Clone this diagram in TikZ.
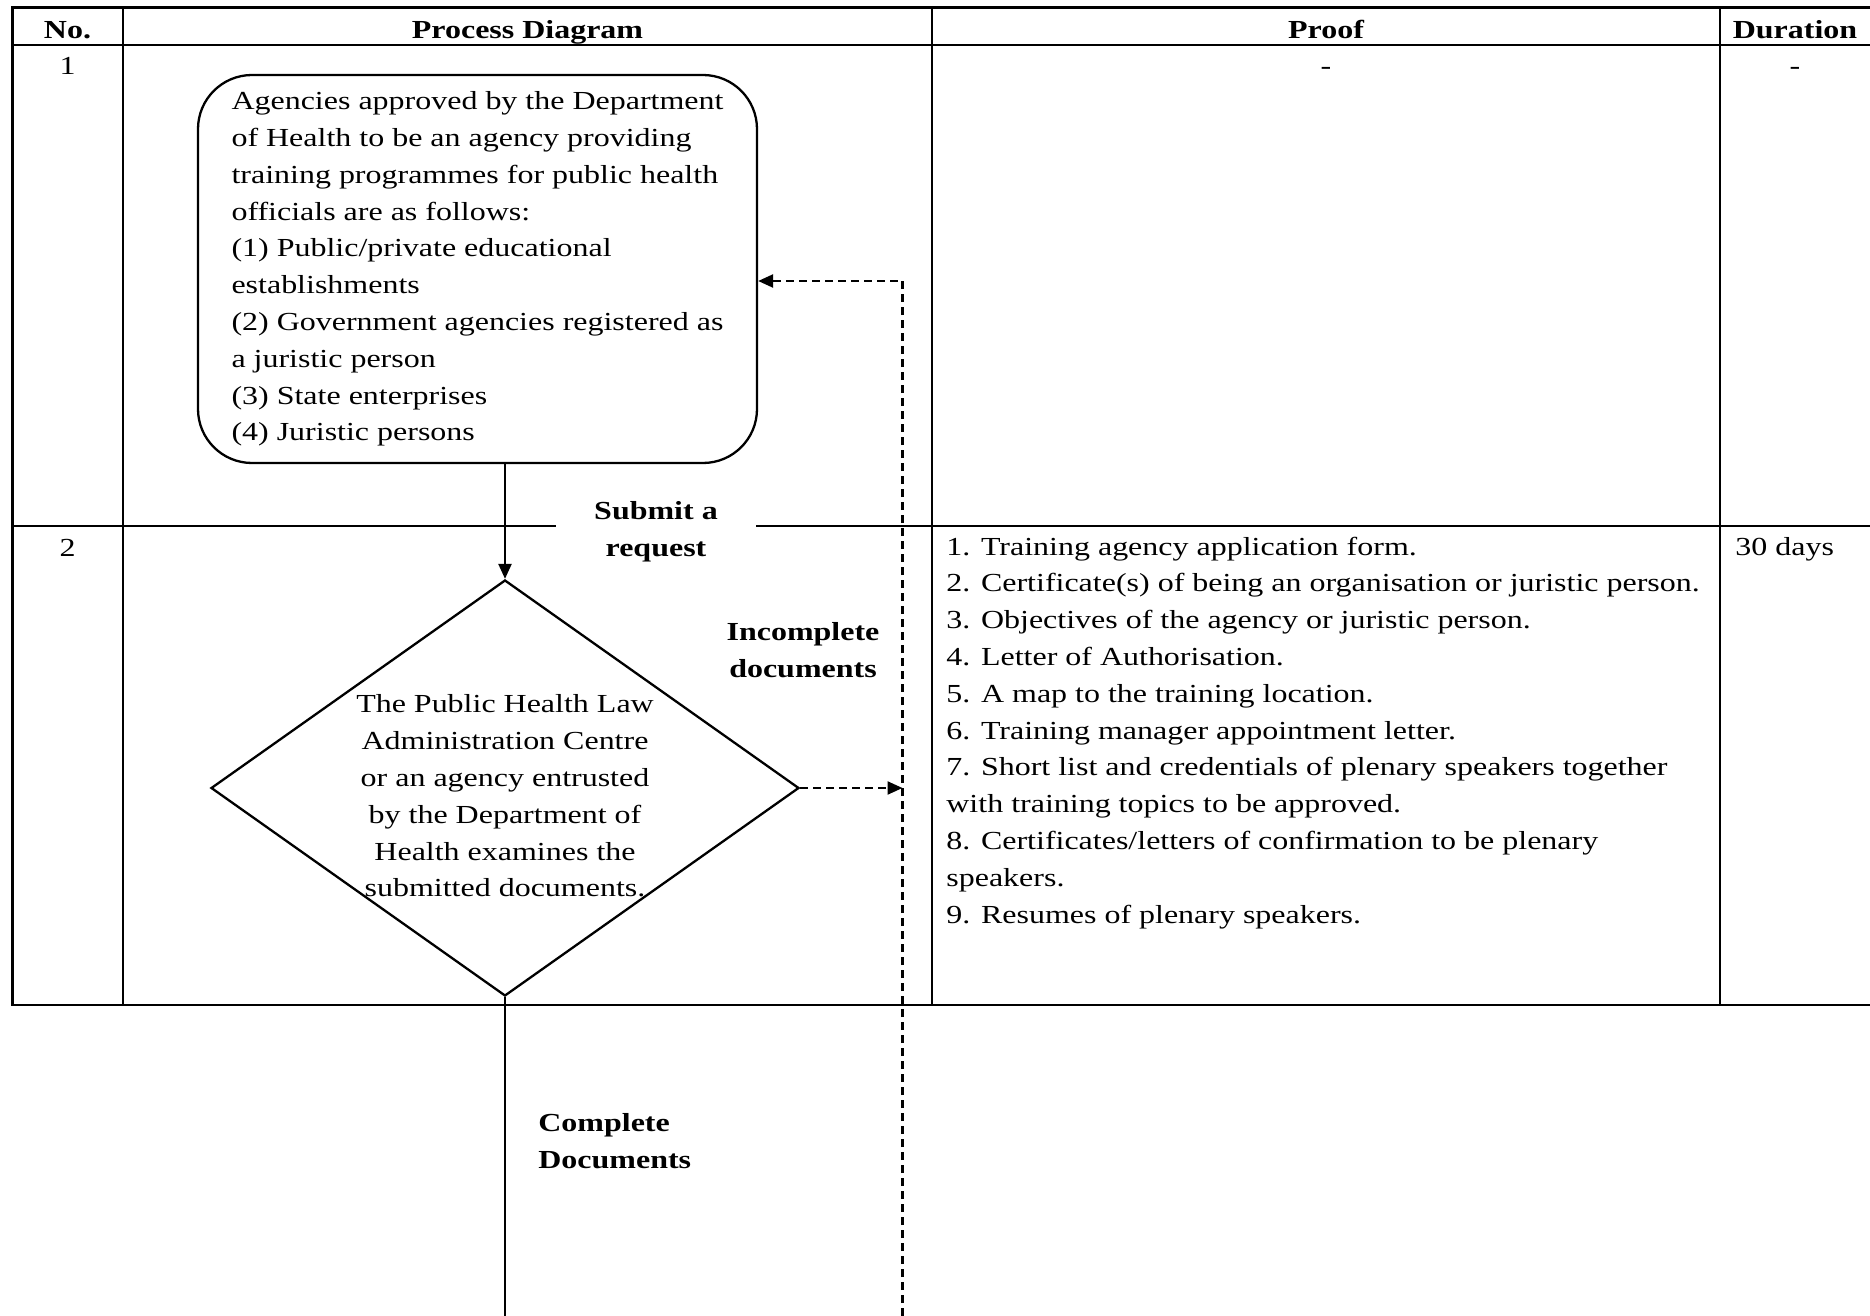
\documentclass[tikz,border=0pt]{standalone}
\usepackage{fontspec}
\setmainfont{Liberation Serif}[FakeStretch=1.23]
\usetikzlibrary{arrows.meta,shapes.geometric}
\newcommand{\bodyfont}{\fontsize{13}{18.4}\selectfont}

\begin{document}
\begin{tikzpicture}[x=0.5pt, y=-0.5pt,
	rule/.style={line width=1.15pt, line cap=rect},
	head/.style={font=\bodyfont\bfseries, anchor=base},
	cell/.style={font=\bodyfont, align=left, anchor=base west, inner sep=0pt},
	process/.style={draw, line width=1.15pt, rounded corners=27pt, minimum width=279.5pt, minimum height=194pt, align=left, font=\bodyfont},
	decision/.style={draw, diamond, line width=1.15pt, minimum width=294pt, minimum height=208pt, inner sep=0pt},
	flow/.style={line width=1.15pt, -{Triangle[length=7.5pt, width=6.5pt]}},
	back/.style={flow, dash pattern=on 4pt off 2.5pt},
	tag/.style={font=\bodyfont\bfseries, align=center, inner sep=1pt}]
	%%%%% TABLE %%%%%
	\useasboundingbox (0, 0) rectangle (1870, 1316);
	\draw[rule] (12.5, 7.5) -- (1870, 7.5);
	\draw[rule] (12.5, 45) -- (1870, 45);
	\draw[rule] (12.5, 526) -- (1870, 526);
	\draw[rule] (12.5, 1005) -- (1870, 1005);
	\foreach \x in {12.5, 123, 932, 1720}
		\draw[rule] (\x, 7.5) -- (\x, 1005);
	
	\node[head] (hno) at (67.5, 38.5) {No.};
	\node[head] (hproc) at (527.5, 38.5) {Process Diagram};
	\node[head] (hproof) at (1326, 38.5) {Proof};
	\node[head] (hdur) at (1795, 38.5) {Duration};
	
	\node[cell, anchor=base] (n1) at (67.5, 75) {1};
	\node[cell, anchor=base] (proof1) at (1326, 75) {-};
	\node[cell, anchor=base] (dur1) at (1795, 75) {-};
	
	\node[cell, anchor=base] (n2) at (67.5, 556) {2};
	% anchored on the baseline of the last line
	\node[cell] (proof2) at (946, 923) {1. Training agency application form.\\
		2. Certificate(s) of being an organisation or juristic person.\\
		3. Objectives of the agency or juristic person.\\
		4. Letter of Authorisation.\\
		5. A map to the training location.\\
		6. Training manager appointment letter.\\
		7. Short list and credentials of plenary speakers together\\
		with training topics to be approved.\\
		8. Certificates/letters of confirmation to be plenary\\
		speakers.\\
		9. Resumes of plenary speakers.};
	\node[cell] (dur2) at (1735, 555) {30 days};
	
	%%%%% PROCESS %%%%%
	\node[process] (apply) at (477.5, 269) {Agencies approved by the Department\\
		of Health to be an agency providing\\
		training programmes for public health\\
		officials are as follows:\\
		(1) Public/private educational\\
		establishments\\
		(2) Government agencies registered as\\
		a juristic person\\
		(3) State enterprises\\
		(4) Juristic persons};
	
	\node[decision] (check) at (505, 788) {};
	\node[font=\bodyfont, align=center] (checktext) at (505, 796) {The Public Health Law\\
		Administration Centre\\
		or an agency entrusted\\
		by the Department of\\
		Health examines the\\
		submitted documents.};
	
	\draw[flow] (apply.south -| check.north) -- (check.north);
	\node[tag, fill=white, minimum width=100pt] (submit) at (656, 532) {Submit a\\request};
	\node[tag] (incomplete) at (803, 650) {Incomplete\\documents};
	\node[tag, anchor=west, align=left] (complete) at (536, 1141) {Complete\\Documents};
	
	\coordinate (loopfoot) at (902.5, 1316);
	\coordinate (loopturn) at (902.5, 281);
	\coordinate (nextstep) at (505, 1316);
	\draw[back] (loopfoot) -- (loopturn) -- (apply.east |- loopturn);
	\draw[back] (check.east) -- (check.east -| loopturn);
	\draw[rule, line cap=butt] (check.south) -- (nextstep);
\end{tikzpicture}
\end{document}
